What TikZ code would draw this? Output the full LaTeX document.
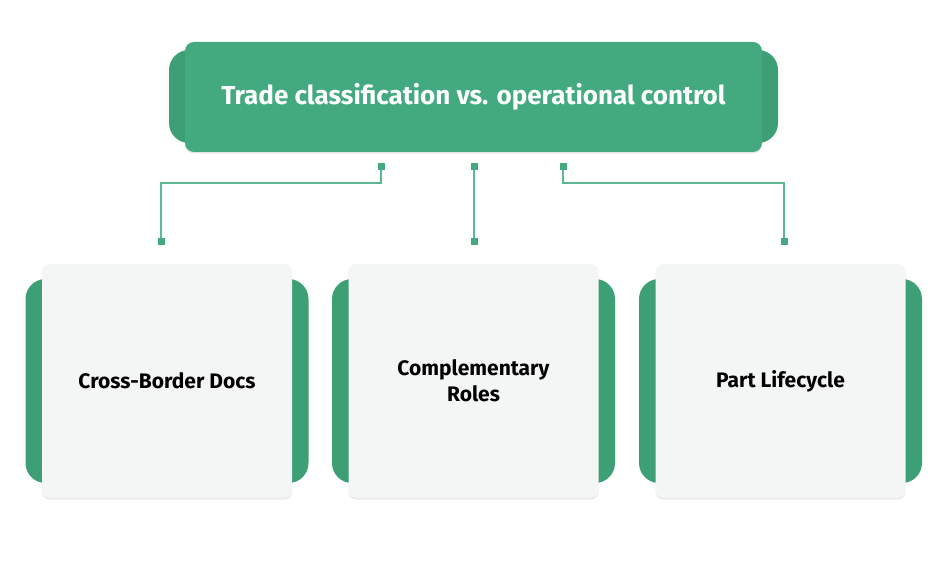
\documentclass[tikz,border=0pt]{standalone}
\usepackage{fontspec}
\setmainfont{Fira Sans}
\usetikzlibrary{positioning,shadows}
\definecolor{jade}{RGB}{67,170,128}
\definecolor{jadedark}{RGB}{60,160,116}
\definecolor{wire}{RGB}{92,184,146}
\definecolor{paper}{RGB}{244,245,245}
\tikzset{
  tab/.style={fill=jadedark,rounded corners=20pt},
  head/.style={fill=jade,text=white,rounded corners=9pt,minimum width=577pt,
    minimum height=110pt,font=\fontsize{26}{30}\selectfont\bfseries,
    drop shadow={opacity=0.2,shadow xshift=0pt,shadow yshift=-1.5pt}},
  card/.style={fill=paper,rounded corners=8pt,minimum width=250pt,minimum height=234pt,
    align=center,font=\fontsize{21}{26}\selectfont\bfseries,
    drop shadow={opacity=0.18,shadow xshift=0pt,shadow yshift=-1.5pt}},
  dot/.style={fill=jade,inner sep=0pt,minimum size=7pt},
  link/.style={draw=wire,line width=1.6pt},
}
\begin{document}
\begin{tikzpicture}[x=1pt,y=-1pt]
  \useasboundingbox (0,0) rectangle (947,564);
  \fill[white] (0,0) rectangle (947,564);
  % title
  \fill[tab] (169,50) rectangle (778,143);
  \node[head] (title) at (473.5,97) {Trade classification vs. operational control};
  % cards
  \foreach \n/\x/\t in {1/167/Cross-Border Docs,2/473.5/Complementary\\Roles,3/780.5/Part Lifecycle}{
    \fill[tab] (\x-141.5,279) rectangle (\x+141.5,483);
    \node[card] (c\n) at (\x,381) {\t};
  }
  % connectors
  \node[dot] (t1) at (381,167) {};
  \node[dot] (t2) at (474,167) {};
  \node[dot] (t3) at (563,167) {};
  \node[dot] (b1) at (161,241) {};
  \node[dot] (b2) at (474,241) {};
  \node[dot] (b3) at (784,241) {};
  \draw[link] (t1.center) -- ++(0,16) -| (b1.center);
  \draw[link] (t2.center) -- (b2.center);
  \draw[link] (t3.center) -- ++(0,16) -| (b3.center);
  \foreach \d in {t1,t2,t3,b1,b2,b3} \node[dot] at (\d) {};
\end{tikzpicture}
\end{document}
